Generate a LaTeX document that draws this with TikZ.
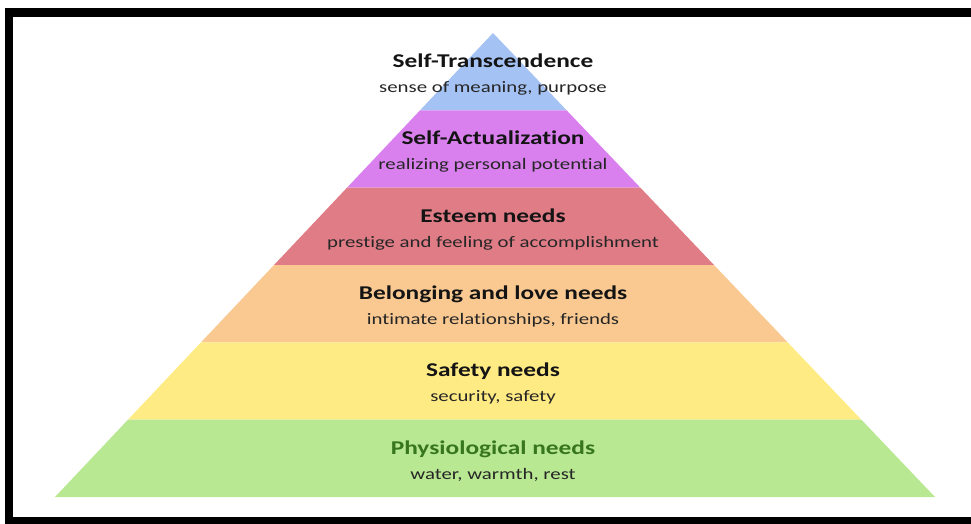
\documentclass[tikz,border=0pt]{standalone}
\usepackage{fontspec}
\setmainfont{Carlito}[Ligatures=NoCommon]
\usetikzlibrary{calc}

\definecolor{TransBlue}{RGB}{164,194,244}
\definecolor{ActPurple}{RGB}{217,128,238}
\definecolor{EsteemRed}{RGB}{224,124,134}
\definecolor{LoveOrange}{RGB}{250,201,146}
\definecolor{SafeYellow}{RGB}{255,235,132}
\definecolor{PhysGreen}{RGB}{184,232,146}
\definecolor{PhysText}{RGB}{56,118,29}

\newcommand{\widetext}[1]{\scalebox{1.3}[1]{#1}}

\begin{document}
\begin{tikzpicture}[x=1pt, y=-1pt,
					LevelTitle/.style={anchor=base, inner sep=0pt, text=black!92, font=\fontsize{19.5}{22}\selectfont\bfseries},
					LevelNote/.style={anchor=base, inner sep=0pt, text=black!85, font=\fontsize{16}{18}\selectfont}]

				\useasboundingbox (0,0) rectangle (971,523);

				\coordinate (Apex) at (493,33);
				\coordinate (BaseL) at (55,497);
				\coordinate (BaseR) at (935,497);

				% pyramid bands, top to bottom
				\foreach \col [count=\k, evaluate=\k as \up using (\k-1)/6, evaluate=\k as \lo using \k/6] in {TransBlue, ActPurple, EsteemRed, LoveOrange, SafeYellow, PhysGreen}
					\fill[\col] ($(Apex)!\up!(BaseL)$) -- ($(Apex)!\lo!(BaseL)$) -- ($(Apex)!\lo!(BaseR)$) -- ($(Apex)!\up!(BaseR)$) -- cycle;

				\node[LevelTitle] (Trans) at (493,67) {\widetext{Self-Transcendence}};
				\node[LevelNote] (TransNote) at ($(Trans.base) + (0,25)$) {\widetext{sense of meaning, purpose}};

				\node[LevelTitle] (Actual) at (493,144) {\widetext{Self-Actualization}};
				\node[LevelNote] (ActualNote) at ($(Actual.base) + (0,25)$) {\widetext{realizing personal potential}};

				\node[LevelTitle] (Esteem) at (493,222) {\widetext{Esteem needs}};
				\node[LevelNote] (EsteemNote) at ($(Esteem.base) + (0,25)$) {\widetext{prestige and feeling of accomplishment}};

				\node[LevelTitle] (Love) at (493,299) {\widetext{Belonging and love needs}};
				\node[LevelNote] (LoveNote) at ($(Love.base) + (0,25)$) {\widetext{intimate relationships, friends}};

				\node[LevelTitle] (Safety) at (493,376) {\widetext{Safety needs}};
				\node[LevelNote] (SafetyNote) at ($(Safety.base) + (0,25)$) {\widetext{security, safety}};

				\node[LevelTitle, text=PhysText] (Phys) at (493,454) {\widetext{Physiological needs}};
				\node[LevelNote] (PhysNote) at ($(Phys.base) + (0,25)$) {\widetext{water, warmth, rest}};

				% frame
				\draw[line width=8.5pt] (975,12.5) -- (9,12.5) -- (9,521) -- (975,521);
			\end{tikzpicture}
\end{document}
